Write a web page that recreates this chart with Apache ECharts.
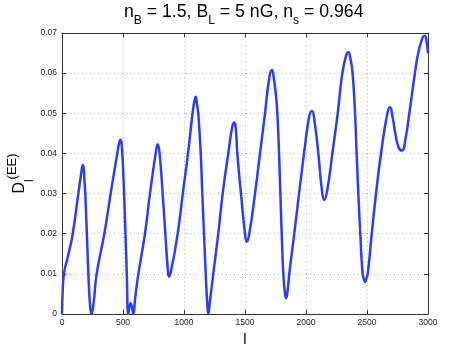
<!DOCTYPE html>
<html>
<head>
<meta charset="utf-8">
<script src="https://cdn.jsdelivr.net/npm/echarts@6/dist/echarts.min.js"></script>
<style>html,body{margin:0;padding:0;background:#fff;}#c{width:473px;height:354px;}</style>
</head>
<body>
<div id="c"></div>
<script>
// multipole l
var ell = [0, 5, 16, 50, 88, 134, 155, 170, 185, 200, 215, 230, 242, 260, 284, 347, 399, 453, 470, 481, 492, 505, 518, 531, 543, 553, 563, 573, 585, 600, 626, 680, 721, 768, 784, 800, 825, 847, 865, 877, 905, 935, 960, 990, 1033, 1070, 1085, 1096, 1107, 1117, 1137, 1150, 1164, 1178, 1190, 1199, 1210, 1240, 1281, 1317, 1363, 1395, 1413, 1425, 1437, 1467, 1500, 1514, 1535, 1582, 1623, 1664, 1700, 1721, 1735, 1752, 1765, 1779, 1790, 1801, 1814, 1826, 1836, 1848, 1863, 1904, 1943, 1984, 2025, 2049, 2070, 2101, 2130, 2150, 2175, 2216, 2260, 2298, 2330, 2347, 2365, 2382, 2402, 2415, 2429, 2445, 2464, 2476, 2484, 2494, 2506, 2539, 2574, 2615, 2667, 2689, 2710, 2735, 2760, 2787, 2815, 2847, 2893, 2920, 2955, 2973, 2990, 3000];
// D_l^(EE)
var dEE = [0, 0.005, 0.010, 0.0145, 0.020, 0.030, 0.0345, 0.0371, 0.033, 0.023, 0.011, 0.002, 0.0, 0.003, 0.010, 0.020, 0.030, 0.040, 0.0428, 0.0434, 0.041, 0.033, 0.022, 0.010, 0.0, 0.0018, 0.0027, 0.0018, 0.0, 0.004, 0.010, 0.020, 0.030, 0.040, 0.0423, 0.040, 0.030, 0.020, 0.012, 0.0093, 0.0125, 0.0175, 0.0225, 0.030, 0.040, 0.050, 0.053, 0.0541, 0.052, 0.050, 0.040, 0.030, 0.020, 0.010, 0.003, 0.0, 0.0025, 0.010, 0.020, 0.030, 0.040, 0.0465, 0.0477, 0.046, 0.040, 0.030, 0.020, 0.0180, 0.020, 0.030, 0.040, 0.050, 0.059, 0.0608, 0.059, 0.055, 0.050, 0.040, 0.030, 0.020, 0.010, 0.0055, 0.0039, 0.0055, 0.010, 0.020, 0.030, 0.040, 0.049, 0.0506, 0.048, 0.040, 0.031, 0.0284, 0.031, 0.040, 0.050, 0.060, 0.0645, 0.0652, 0.0635, 0.060, 0.050, 0.040, 0.030, 0.020, 0.010, 0.0085, 0.0080, 0.0088, 0.010, 0.020, 0.030, 0.040, 0.050, 0.0515, 0.049, 0.0445, 0.0415, 0.0407, 0.0435, 0.050, 0.060, 0.065, 0.0688, 0.0693, 0.0675, 0.0649];
var xTicks = ['0', '500', '1000', '1500', '2000', '2500', '3000'];
var yTicks = ['0', '0.01', '0.02', '0.03', '0.04', '0.05', '0.06', '0.07'];

var FONT = 'Liberation Sans, Arial, Helvetica, sans-serif';
var pts = ell.map(function (l, i) { return [l, dEE[i]]; });
var chart = echarts.init(document.getElementById('c'), null, {renderer: 'canvas'});
var axisLineStyle = {color: '#333', width: 1};
var gridLine = {show: true, lineStyle: {color: '#b5b5b5', width: 1, type: [1, 3]}};
chart.setOption({
  animation: false,
  backgroundColor: '#fff',
  title: {
    text: '{m|n}{s|B}{m| = 1.5, B}{s|L}{m| = 5 nG, n}{s|s}{m| = 0.964}',
    left: 124, top: 3, padding: 0, textAlign: 'left',
    textStyle: {
      fontFamily: FONT, fontWeight: 'normal', color: '#000',
      rich: {
        m: {fontSize: 17.7, lineHeight: 18, verticalAlign: 'top', fontFamily: FONT, color: '#000'},
        s: {fontSize: 12, lineHeight: 12, verticalAlign: 'top', padding: [12, 0, 0, 0], fontFamily: FONT, color: '#000'}
      }
    }
  },
  grid: {left: 62, right: 45, top: 33, bottom: 40, containLabel: false, outerBoundsMode: 'none'},
  xAxis: [{
    type: 'value', min: 0, max: 3000, interval: 500, position: 'bottom',
    name: 'l', nameLocation: 'middle', nameGap: 18, nameMoveOverlap: false,
    nameTextStyle: {fontFamily: FONT, fontSize: 15, color: '#000'},
    axisLine: {show: true, onZero: false, lineStyle: axisLineStyle},
    axisTick: {show: true, inside: true, length: 4, lineStyle: axisLineStyle},
    axisLabel: {margin: 4, fontFamily: FONT, fontSize: 8.5, color: '#222',
      formatter: function (v) { return xTicks[Math.round(v / 500)]; }},
    splitLine: gridLine
  }, {
    type: 'value', min: 0, max: 3000, interval: 500, position: 'top',
    axisLine: {show: true, onZero: false, lineStyle: axisLineStyle},
    axisTick: {show: true, inside: true, length: 4, lineStyle: axisLineStyle},
    axisLabel: {show: false}, splitLine: {show: false}
  }],
  yAxis: [{
    type: 'value', min: 0, max: 0.07, interval: 0.01, position: 'left',
    name: '{d|D}{b|l}{p|(EE)}', nameLocation: 'middle', nameRotate: 90, nameGap: 40, nameMoveOverlap: false,
    nameTextStyle: {
      fontFamily: FONT, color: '#000',
      rich: {
        d: {fontSize: 16, lineHeight: 16, verticalAlign: 'top', padding: [6, 0, 0, 0], fontFamily: FONT, color: '#000'},
        b: {fontSize: 12, lineHeight: 12, verticalAlign: 'top', padding: [18, 0, 0, 0], fontFamily: FONT, color: '#000'},
        p: {fontSize: 13, lineHeight: 13, verticalAlign: 'top', fontFamily: FONT, color: '#000'}
      }
    },
    axisLine: {show: true, onZero: false, lineStyle: axisLineStyle},
    axisTick: {show: true, inside: true, length: 4, lineStyle: axisLineStyle},
    axisLabel: {margin: 5, fontFamily: FONT, fontSize: 8.5, color: '#222',
      formatter: function (v) { return yTicks[Math.round(v / 0.01)]; }},
    splitLine: gridLine
  }, {
    type: 'value', min: 0, max: 0.07, interval: 0.01, position: 'right',
    axisLine: {show: true, onZero: false, lineStyle: axisLineStyle},
    axisTick: {show: true, inside: true, length: 4, lineStyle: axisLineStyle},
    axisLabel: {show: false}, splitLine: {show: false}
  }],
  series: [{
    type: 'line', data: pts, xAxisIndex: 0, yAxisIndex: 0,
    showSymbol: false, smooth: 0.5,
    lineStyle: {color: '#2b3ef6', width: 2.5},
    z: 3
  }]
});
</script>
</body>
</html>
